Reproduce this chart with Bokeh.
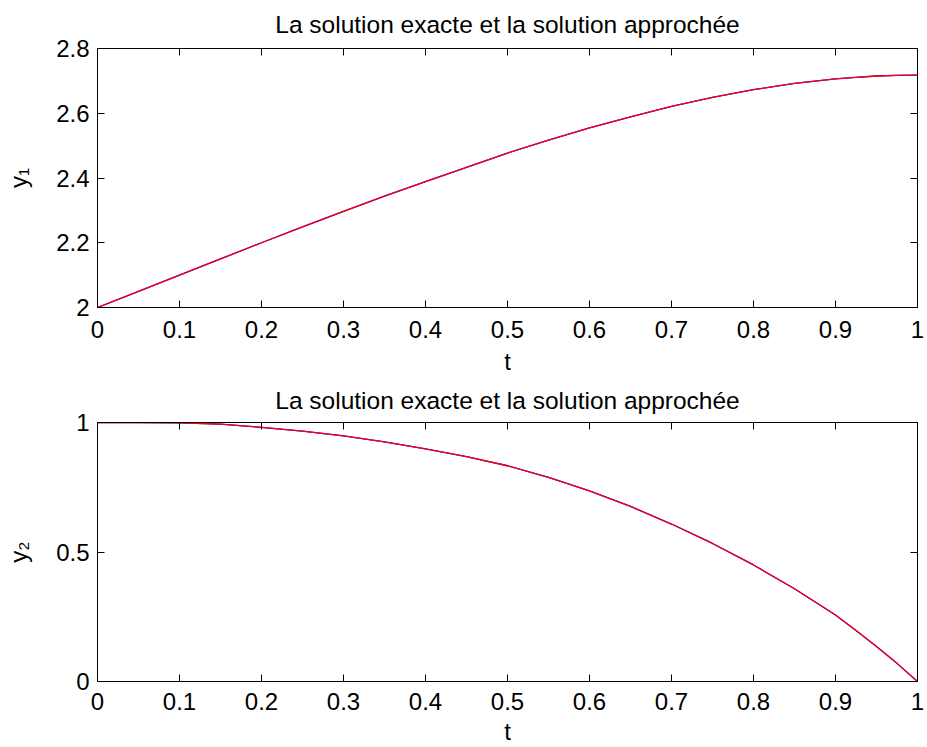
from bokeh.plotting import figure
from bokeh.layouts import column
from bokeh.models import LinearAxis, FixedTicker, Range1d, CustomJSTickFormatter
from bokeh.embed import file_html
from bokeh.resources import INLINE

# ---- data ----
t = [0.0, 0.05, 0.1, 0.15, 0.2, 0.25, 0.3, 0.35, 0.4, 0.45, 0.5,
     0.55, 0.6, 0.65, 0.7, 0.75, 0.8, 0.85, 0.9, 0.925, 0.95, 0.975, 1.0]
y1_exact = [2.0, 2.05, 2.10, 2.15, 2.20, 2.249, 2.297, 2.344, 2.389, 2.433, 2.477,
            2.517, 2.555, 2.589, 2.621, 2.649, 2.673, 2.692, 2.706, 2.711, 2.715, 2.717, 2.718]
y1_approx = [2.0, 2.05, 2.10, 2.15, 2.20, 2.249, 2.297, 2.344, 2.389, 2.433, 2.477,
             2.517, 2.555, 2.589, 2.621, 2.649, 2.673, 2.692, 2.706, 2.711, 2.715, 2.717, 2.718]
y2_exact = [1.0, 1.0, 0.999, 0.994, 0.981, 0.967, 0.948, 0.925, 0.898, 0.868, 0.833,
            0.788, 0.736, 0.676, 0.608, 0.533, 0.450, 0.358, 0.257, 0.197, 0.135, 0.070, 0.0]
y2_approx = [1.0, 1.0, 0.999, 0.994, 0.981, 0.967, 0.948, 0.925, 0.898, 0.868, 0.833,
             0.788, 0.736, 0.676, 0.608, 0.533, 0.450, 0.358, 0.257, 0.197, 0.135, 0.070, 0.0]

x_ticks = [0, 0.1, 0.2, 0.3, 0.4, 0.5, 0.6, 0.7, 0.8, 0.9, 1]
x_tick_labels = ["0", "0.1", "0.2", "0.3", "0.4", "0.5", "0.6", "0.7", "0.8", "0.9", "1"]
y1_ticks = [2, 2.2, 2.4, 2.6, 2.8]
y1_tick_labels = ["2", "2.2", "2.4", "2.6", "2.8"]
y2_ticks = [0, 0.5, 1]
y2_tick_labels = ["0", "0.5", "1"]
title_text = "La solution exacte et la solution approchée"
x_label = "t"
y1_label = "y\u2081"
y2_label = "y\u2082"

FONT = "Liberation Sans"
FS = "24px"
TITLE_FS = "24.5px"


def style_axis(ax, ticks, labels, show_labels=True):
    ax.ticker = FixedTicker(ticks=ticks)
    ax.axis_line_color = "black"
    ax.axis_line_width = 1
    ax.major_tick_line_color = "black"
    ax.major_tick_in = 7
    ax.major_tick_out = 0
    ax.minor_tick_line_color = None
    if show_labels:
        ax.major_label_overrides = {v: s for v, s in zip(ticks, labels)}
        ax.major_label_text_font = FONT
        ax.major_label_text_font_size = FS
        ax.major_label_text_color = "black"
    else:
        ax.formatter = CustomJSTickFormatter(code="return ''")
        ax.major_label_text_font_size = "1px"
        ax.major_label_standoff = 0


def make(ys_exact, ys_approx, yr, yticks, ylabels, ylabel, height, top, bottom,
         title_standoff, tick_standoff, xlab_standoff):
    p = figure(width=925, height=height, x_range=Range1d(0, 1), y_range=Range1d(*yr),
               output_backend="svg", toolbar_location=None,
               min_border_left=97, min_border_right=8,
               min_border_top=top, min_border_bottom=bottom,
               title=title_text)
    p.grid.visible = False
    p.outline_line_color = "black"
    p.background_fill_color = "white"
    p.border_fill_color = "white"

    style_axis(p.xaxis[0], x_ticks, x_tick_labels)
    style_axis(p.yaxis[0], yticks, ylabels)
    p.xaxis[0].major_label_standoff = tick_standoff
    p.yaxis[0].major_label_standoff = 8
    p.xaxis[0].axis_label = x_label
    p.yaxis[0].axis_label = ylabel
    for ax in (p.xaxis[0], p.yaxis[0]):
        ax.axis_label_text_font = FONT
        ax.axis_label_text_font_size = FS
        ax.axis_label_text_font_style = "normal"
        ax.axis_label_text_color = "black"
    p.xaxis[0].axis_label_standoff = xlab_standoff
    p.yaxis[0].axis_label_standoff = 21

    top_ax = LinearAxis()
    style_axis(top_ax, x_ticks, x_tick_labels, show_labels=False)
    p.add_layout(top_ax, "above")
    right_ax = LinearAxis()
    style_axis(right_ax, yticks, ylabels, show_labels=False)
    p.add_layout(right_ax, "right")

    p.title.align = "center"
    p.title.vertical_align = "top"
    p.title.text_font = FONT
    p.title.text_font_size = TITLE_FS
    p.title.text_font_style = "normal"
    p.title.text_color = "black"
    p.title.standoff = title_standoff

    p.line(t, ys_approx, line_color="#0000ff", line_width=1.3)
    p.line(t, ys_exact, line_color="#ff0000", line_width=1.3)
    return p


p1 = make(y1_exact, y1_approx, (2, 2.8), y1_ticks, y1_tick_labels, y1_label,
          377, 48, 70, 17, 13, 7)
p2 = make(y2_exact, y2_approx, (0, 1), y2_ticks, y2_tick_labels, y2_label,
          370, 45, 66, 14, 11, 5)

layout = column(p1, p2, spacing=0)
open("out.html", "w").write(file_html(layout, INLINE))
